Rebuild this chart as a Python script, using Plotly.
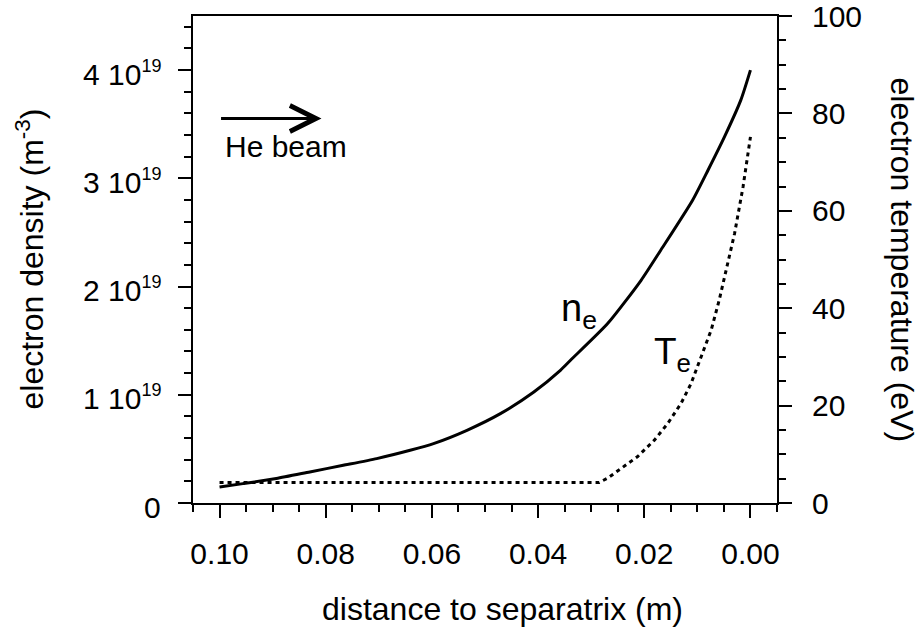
import plotly.graph_objects as go

# ---- data ----
dist_ne = [0.100, 0.0956, 0.0893, 0.0830, 0.0767, 0.0704, 0.0641, 0.0597, 0.0534, 0.0471,
           0.0408, 0.0358, 0.0339, 0.0269, 0.0206, 0.0169, 0.0109, 0.0080, 0.0049, 0.0018, 0.0]
ne_1e19 = [0.148, 0.179, 0.226, 0.287, 0.348, 0.410, 0.487, 0.549, 0.672, 0.826,
           1.026, 1.226, 1.319, 1.658, 2.058, 2.336, 2.798, 3.075, 3.383, 3.725, 4.0]
dist_te = [0.100, 0.060, 0.0285, 0.0269, 0.0244, 0.0213, 0.0181, 0.0156, 0.0131, 0.0112,
           0.0093, 0.0074, 0.0059, 0.0049, 0.0030, 0.0014, 0.0005, 0.0]
te_ev = [4.2, 4.2, 4.2, 5.1, 7.1, 9.5, 12.9, 16.3, 20.4, 24.5,
         30.0, 35.5, 41.6, 46.4, 55.3, 64.9, 71.8, 75.2]

x_ticks = [0.10, 0.08, 0.06, 0.04, 0.02, 0.00]
x_ticktext = ["0.10", "0.08", "0.06", "0.04", "0.02", "0.00"]
ne_ticks = [0, 1e19, 2e19, 3e19, 4e19]
ne_ticktext = ["0", "1 10<sup><span style='font-size:18px'>19</span></sup>",
               "2 10<sup><span style='font-size:18px'>19</span></sup>",
               "3 10<sup><span style='font-size:18px'>19</span></sup>",
               "4 10<sup><span style='font-size:18px'>19</span></sup>"]
te_ticks = [0, 20, 40, 60, 80, 100]

ne = [v * 1e19 for v in ne_1e19]

FONT = "Liberation Sans, Arial, Helvetica, sans-serif"
TICKF = dict(family=FONT, size=30, color="black")

fig = go.Figure()
fig.add_trace(go.Scatter(x=dist_ne, y=ne, mode="lines",
                         line=dict(color="black", width=3, shape="spline", smoothing=0.6),
                         showlegend=False))
fig.add_trace(go.Scatter(x=dist_te, y=te_ev, mode="lines", yaxis="y2",
                         line=dict(color="black", width=3, dash="4px,4px"),
                         showlegend=False))

axis_common = dict(showline=True, linecolor="black", linewidth=2, ticks="outside",
                   ticklen=13, tickwidth=2, tickcolor="black", showgrid=False,
                   zeroline=False, tickfont=TICKF, automargin=False)

fig.update_layout(
    width=922, height=630,
    margin=dict(l=193, r=145, t=16, b=127),
    plot_bgcolor="white", paper_bgcolor="white",
    font=dict(family=FONT, color="black"),
    xaxis=dict(range=[0.105, -0.005], tickvals=x_ticks, ticktext=x_ticktext,
               mirror=True, ticklabelstandoff=10,
               minor=dict(dtick=0.005, tick0=0, ticks="outside", ticklen=7, tickwidth=2,
                          tickcolor="black", showgrid=False),
               **axis_common),
    yaxis=dict(range=[0, 4.5e19], tickvals=ne_ticks, showticklabels=False,
               minor=dict(dtick=0.2e19, tick0=0, ticks="outside", ticklen=7, tickwidth=2,
                          tickcolor="black", showgrid=False),
               **axis_common),
    yaxis2=dict(range=[0, 100.02], tickvals=te_ticks, overlaying="y", side="right",
                ticklabelstandoff=14, ticklabeloverflow="allow",
                minor=dict(dtick=5, tick0=0, ticks="outside", ticklen=7, tickwidth=2,
                           tickcolor="black", showgrid=False),
                **axis_common),
)

# left tick labels (right-aligned next to the ticks)
for v, t in zip(ne_ticks, ne_ticktext):
    fig.add_annotation(text=t, x=0, xref="paper", y=v, yref="y", xanchor="right",
                       yanchor="middle", xshift=-30, yshift=-3 if v else -4,
                       showarrow=False, font=TICKF)

TITLEF = dict(family=FONT, size=32, color="black")
fig.add_annotation(text="distance to separatrix (m)", xref="paper", yref="paper",
                   x=0.53, y=0, yshift=-86, xanchor="center", yanchor="top",
                   showarrow=False, font=TITLEF)
fig.add_annotation(text="electron density (m<sup>-3</sup>)", xref="paper", yref="paper",
                   x=0, xshift=-164, y=0.5, xanchor="center", yanchor="middle",
                   textangle=-90, showarrow=False, font=TITLEF)
fig.add_annotation(text="electron temperature (eV)", xref="paper", yref="paper",
                   x=1, xshift=125, y=0.5, xanchor="center", yanchor="middle",
                   textangle=90, showarrow=False, font=TITLEF)

# He beam arrow
fig.add_annotation(x=0.0808, y=3.553e19, ax=0.100, ay=3.553e19, xref="x", yref="y",
                   axref="x", ayref="y", text="", showarrow=True, arrowhead=5,
                   arrowsize=1.7, arrowwidth=3, arrowcolor="black")
fig.add_annotation(text="He beam", x=0.1, y=3.553e19, xref="x", yref="y",
                   xanchor="left", yanchor="top", yshift=-10, xshift=3,
                   showarrow=False, font=dict(family=FONT, size=30, color="black"))

# curve labels
fig.add_annotation(text="n<sub>e</sub>", x=0.0360, y=1.72e19, xref="x", yref="y",
                   xanchor="left", yanchor="middle", yshift=6, showarrow=False,
                   font=dict(family=FONT, size=38, color="black"))
fig.add_annotation(text="T<sub>e</sub>", x=0.0186, y=0.305 * 4.5e19, xref="x", yref="y",
                   xanchor="left", yanchor="middle", showarrow=False,
                   font=dict(family=FONT, size=37, color="black"))

fig.write_html("out.html")
